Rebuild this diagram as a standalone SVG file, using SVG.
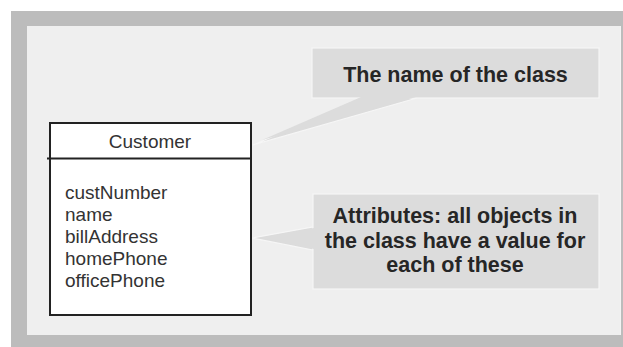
<svg xmlns="http://www.w3.org/2000/svg" width="623" height="347" viewBox="0 0 623 347">
<style>
.callout{fill:#dcdcdc;stroke:#f6f6f6;stroke-width:1.2}
.ct{font-family:"Liberation Sans",Arial,sans-serif;font-weight:bold;font-size:21.5px;fill:#262626;text-anchor:middle}
.cls{font-family:"Liberation Sans",Arial,sans-serif;font-size:19px;fill:#333}
</style>
<rect x="0" y="0" width="623" height="347" fill="#ffffff"/>
<rect x="11" y="11" width="612" height="336" fill="#bcbcbc"/>
<rect x="27" y="26" width="593" height="309" fill="#efefef"/>
<rect x="620" y="26" width="1" height="309" fill="#f4f4f4"/>
<g id="connectors">
<polygon class="callout" points="360,98 417,98 253,145"/>
<polygon class="callout" points="313,227 313,250 252,238"/>
</g>
<g id="class-customer">
<rect x="50" y="123" width="201" height="192" fill="#ffffff" stroke="#222" stroke-width="2"/>
<line x1="47" y1="158.5" x2="251" y2="158.5" stroke="#222" stroke-width="2"/>
<text class="cls" x="150" y="148" text-anchor="middle">Customer</text>
<text class="cls" x="65" y="198.5">custNumber</text>
<text class="cls" x="65" y="220.7">name</text>
<text class="cls" x="65" y="242.9">billAddress</text>
<text class="cls" x="65" y="265.1">homePhone</text>
<text class="cls" x="65" y="287.3">officePhone</text>
</g>
<g id="note-name">
<rect class="callout" x="312" y="48" width="287" height="50"/>
<polygon points="361,97 416,97 262,140" fill="#dcdcdc"/>
<text class="ct" x="455.5" y="82">The name of the class</text>
</g>
<g id="note-attributes">
<rect class="callout" x="313" y="194" width="286" height="95"/>
<polygon points="314,228 314,249 262,238" fill="#dcdcdc"/>
<text class="ct" x="455" y="222.7">Attributes: all objects in</text>
<text class="ct" x="455" y="247.5">the class have a value for</text>
<text class="ct" x="455" y="271.7">each of these</text>
</g>
</svg>
